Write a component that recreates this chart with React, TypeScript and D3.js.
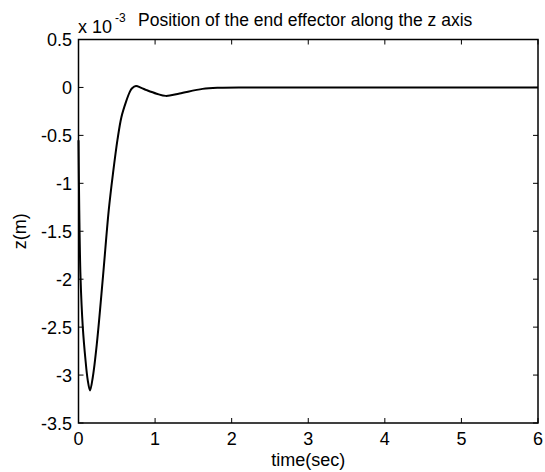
import React from "react";
import * as d3 from "d3";

const timeSec = [0, 0.01, 0.026, 0.056, 0.091, 0.12, 0.15, 0.187, 0.24, 0.32, 0.395, 0.45, 0.51, 0.56, 0.62, 0.67, 0.7, 0.75, 0.82, 0.89, 1.02, 1.14, 1.32, 1.62, 1.84, 2.2, 3, 4, 5, 6];
const zMilli = [-0.55, -1.28, -1.97, -2.5, -2.84, -3.05, -3.16, -3.02, -2.67, -1.97, -1.28, -0.9, -0.54, -0.31, -0.15, -0.046, -0.008, 0.014, -0.005, -0.028, -0.065, -0.088, -0.063, -0.015, -0.003, 0, 0, 0, 0, 0];
const xTicks = [0, 1, 2, 3, 4, 5, 6];
const yTicks = [0.5, 0, -0.5, -1, -1.5, -2, -2.5, -3, -3.5];
const yTickLabels = ["0.5", "0", "-0.5", "-1", "-1.5", "-2", "-2.5", "-3", "-3.5"];

const W = 545, H = 472;
const L = 78.5, R = 538, T = 39.5, B = 423;
const font = "'Liberation Sans', Arial, sans-serif";

export default function App() {
  const x = d3.scaleLinear().domain([0, 6]).range([L, R]);
  const y = d3.scaleLinear().domain([-3.5, 0.5]).range([B, T]);
  const line = d3
    .line<number>()
    .x((_, i) => x(timeSec[i]))
    .y((d) => y(d))
    .curve(d3.curveCatmullRom.alpha(0.5));
  const tl = 5;
  return (
    <svg width={W} height={H} style={{ position: "absolute", left: 0, top: 0, background: "#fff" }} fontFamily={font}>
      <rect x={0} y={0} width={W} height={H} fill="#fff" />
      <path d={line(zMilli) || ""} fill="none" stroke="#000" strokeWidth={2} strokeLinejoin="round" />
      <rect x={L} y={T} width={R - L} height={B - T} fill="none" stroke="#000" strokeWidth={1.5} />
      {xTicks.map((t) => (
        <g key={"x" + t}>
          <line x1={x(t)} x2={x(t)} y1={B} y2={B - tl} stroke="#000" strokeWidth={1} />
          <line x1={x(t)} x2={x(t)} y1={T} y2={T + tl} stroke="#000" strokeWidth={1} />
          <text x={x(t)} y={445} fontSize={18} textAnchor="middle">{t}</text>
        </g>
      ))}
      {yTicks.map((v, i) => (
        <g key={"y" + v}>
          <line x1={L} x2={L + tl} y1={y(v)} y2={y(v)} stroke="#000" strokeWidth={1} />
          <line x1={R} x2={R - tl} y1={y(v)} y2={y(v)} stroke="#000" strokeWidth={1} />
          <text x={72} y={y(v) + 6.5} fontSize={18} textAnchor="end">{yTickLabels[i]}</text>
        </g>
      ))}
      <text x={(L + R) / 2} y={466} fontSize={18} textAnchor="middle">time(sec)</text>
      <text transform={`translate(26,${(T + B) / 2}) rotate(-90)`} fontSize={18} textAnchor="middle">z(m)</text>
      <text x={78} y={33} fontSize={18}>x 10</text>
      <text x={115} y={22} fontSize={12}>-3</text>
      <text x={138} y={25.7} fontSize={17.5}>Position of the end effector along the z axis</text>
    </svg>
  );
}
